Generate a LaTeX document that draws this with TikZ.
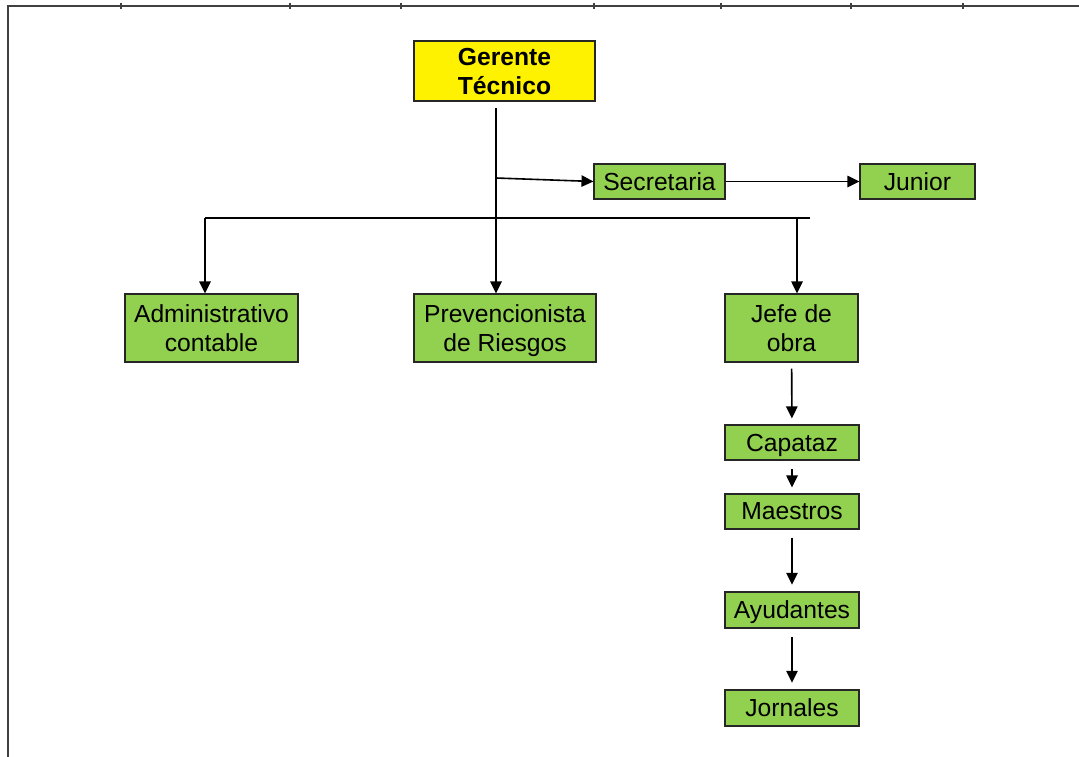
\documentclass[tikz,border=0pt]{standalone}
\usepackage{fontspec}
\setmainfont{Liberation Sans}
\usetikzlibrary{arrows.meta}
\tikzset{
  x=0.75pt, y=-0.75pt,
  orgbox/.style 2 args={draw=black!85, line width=0.8pt, fill=boxgreen, inner sep=0pt,
    minimum width=#1*0.75pt, minimum height=#2*0.75pt, align=center, text depth=0pt,
    font=\fontsize{18.5}{21.75}\selectfont},
  topbox/.style 2 args={orgbox={#1}{#2}, fill=yellow, font=\fontsize{18.5}{21.75}\selectfont\bfseries},
  arr/.style={line width=1.2pt, -{Triangle[length=9pt,width=8.5pt]}},
  plain/.style={line width=1.2pt},
  frame/.style={draw=black!75, line width=1.1pt},
}
\definecolor{boxgreen}{HTML}{92D050}
\begin{document}
\begin{tikzpicture}
\useasboundingbox (0,0) rectangle (1079,757);
% frame
\draw[frame] (7,6) -- (1079,6);
\draw[frame] (8,6) -- (8,757);
\foreach \t in {121,290,401,594,721,851,963} \draw[frame, line width=0.8pt] (\t,3) -- (\t,9);

% nodes
\node[topbox={181}{60}] (ger) at (504.5,71) {Gerente\\Técnico};
\node[orgbox={131}{35}] (sec) at (659.5,181.5) {Secretaria};
\node[orgbox={115}{35}] (jun) at (917.5,181.5) {Junior};
\node[orgbox={173}{68}] (adm) at (211.5,328) {Administrativo\\contable};
\node[orgbox={182}{68}] (prev) at (505,328) {Prevencionista\\de Riesgos};
\node[orgbox={133}{68}] (jefe) at (791.5,328) {Jefe de\\obra};
\node[orgbox={134}{35}] (cap) at (792,442.5) {Capataz};
\node[orgbox={134}{35}] (mae) at (792,511.5) {Maestros};
\node[orgbox={134}{36}] (ayu) at (792,610) {Ayudantes};
\node[orgbox={134}{36}] (jor) at (792,708) {Jornales};

% connector points
\coordinate (trunk) at (496,108);
\coordinate (jsec) at (496,178);
\coordinate (hl) at (205,218);
\coordinate (hr) at (810,218);
\coordinate (hj) at (797,218);

% connectors
\draw[arr] (trunk) -- (trunk |- prev.north);
\draw[arr] (jsec) -- (sec.west);
\draw[arr] (sec.east) -- (jun.west);
\draw[plain] (hl) -- (hr);
\draw[arr] (hl) -- (hl |- adm.north);
\draw[arr] (hj) -- (hj |- jefe.north);
\draw[arr, shorten <=4.5pt, shorten >=4.5pt] (jefe) -- (cap);
\draw[arr, shorten <=6pt, shorten >=4.5pt] (cap) -- (mae);
\draw[arr, shorten <=6pt, shorten >=5pt] (mae) -- (ayu);
\draw[arr, shorten <=6pt, shorten >=5pt] (ayu) -- (jor);
\end{tikzpicture}
\end{document}
